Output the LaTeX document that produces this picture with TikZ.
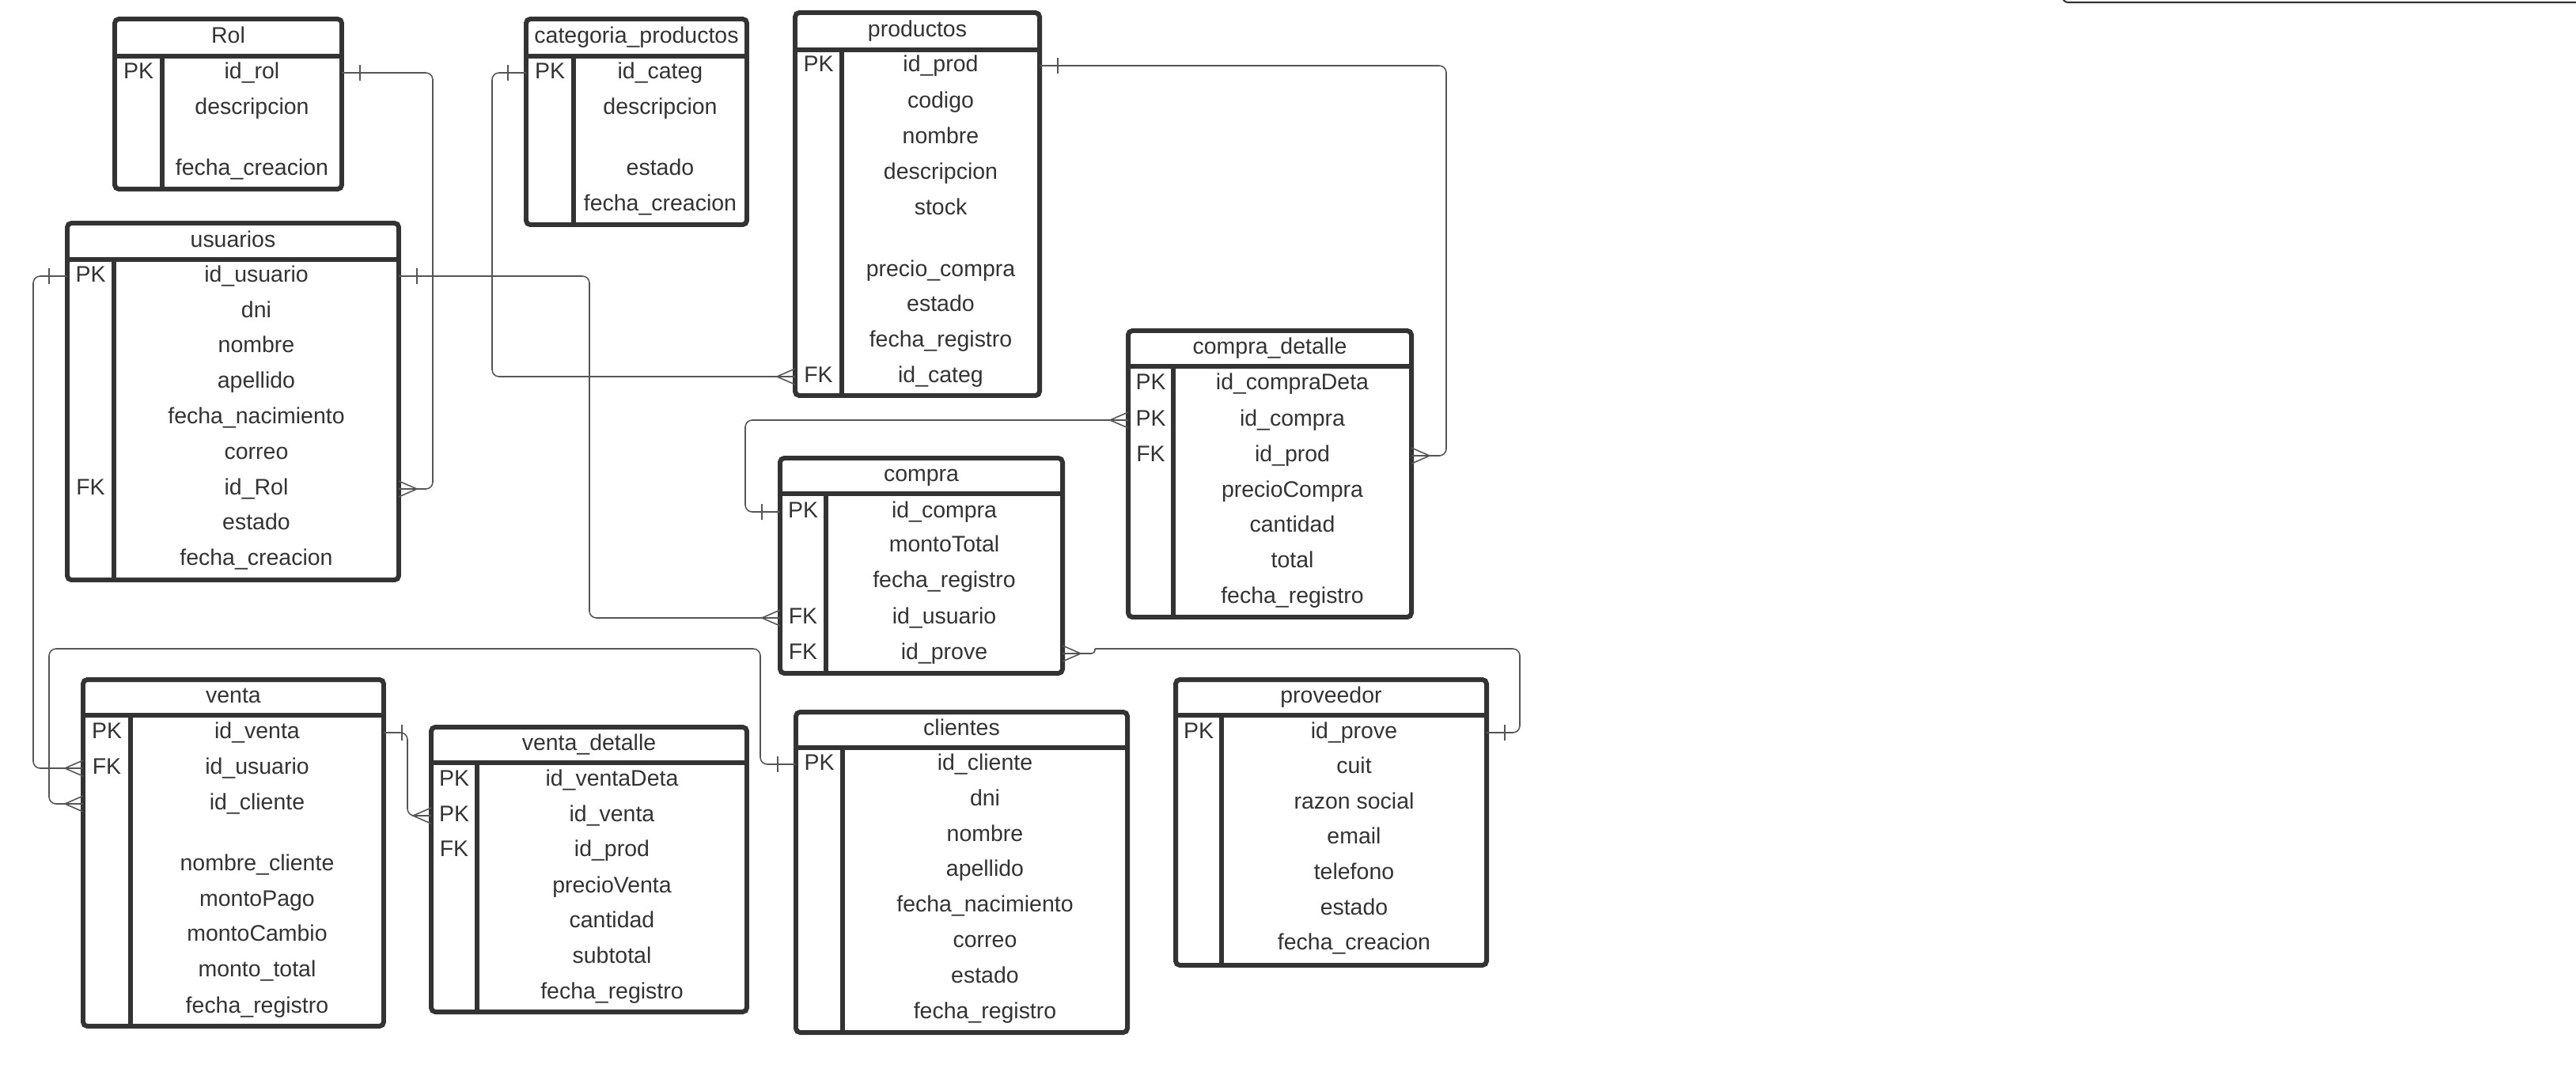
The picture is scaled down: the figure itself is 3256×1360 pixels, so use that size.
\documentclass[tikz,border=0pt]{standalone}
\usepackage{fontspec}
\setmainfont{Liberation Sans}
\usetikzlibrary{calc,fit}
\definecolor{ink}{HTML}{333333}
\definecolor{wirecol}{HTML}{555555}

\tikzset{
  tableframe/.style={draw=ink, line width=1.7pt, rounded corners=1.5pt, inner sep=0pt, outer sep=0pt},
  tablerule/.style={draw=ink, line width=1.5pt},
  celltext/.style={text=ink, font=\fontsize{8.1pt}{9.7pt}\selectfont, inner sep=0pt,
                   text height=5.8pt, text depth=1.7pt},
  rowslot/.style={inner sep=0pt, outer sep=0pt},
  wire/.style={draw=wirecol, line width=0.45pt, rounded corners=2.5pt},
  tick/.style={draw=wirecol, line width=0.45pt},
}

% table frame with header band and key column
% #1 name, #2 left, #3 top, #4 right, #5 bottom, #6 key column edge, #7 header bottom, #8 title
\newcommand{\ertable}[8]{%
  \node[tableframe, fit={(#2,#3) (#4,#5)}] (#1) {};
  \node[celltext] (#1-title) at ({(#2+#4)/2},{(#3+#7)/2}) {#8};
  \draw[tablerule] (#2,#7) -- (#4,#7);
  \draw[tablerule] (#6,#7) -- (#6,#5);
  \def\tL{#2}\def\tR{#4}\def\tD{#6}%
}
% one attribute row: #1 name, #2 y, #3 key label, #4 attribute
\newcommand{\erow}[4]{%
  \node[rowslot, fit={(\tL,#2) (\tR,#2)}] (#1) {};
  \if\relax\detokenize{#3}\relax\else
    \node[celltext] (#1-key) at ({(\tL+\tD)/2},#2) {#3};
  \fi
  \node[celltext] (#1-field) at ({(\tD+\tR)/2},#2) {#4};
}
% cardinality marks; #2 = -1 for a line leaving to the left, +1 to the right
\newcommand{\onemark}[2]{%
  \draw[tick] ($(#1)+(#2*23,-10)$) -- ($(#1)+(#2*23,10)$);}
\newcommand{\manymark}[2]{%
  \draw[tick] ($(#1)+(0,-10)$) -- ($(#1)+(#2*23,0)$) -- ($(#1)+(0,10)$);}

\begin{document}
\begin{tikzpicture}[x=0.01cm, y=-0.01cm]
\useasboundingbox (0,0) rectangle (3256,1360);

% ---------- Rol ----------
\ertable{rol}{145}{24}{432}{239}{205}{71}{Rol}
\erow{rol-id}{92}{PK}{id\_rol}
\erow{rol-desc}{137}{}{descripcion}
\erow{rol-fec}{214}{}{fecha\_creacion}

% ---------- categoria_productos ----------
\ertable{cat}{665}{24}{944}{284}{725}{71}{categoria\_productos}
\erow{cat-id}{92}{PK}{id\_categ}
\erow{cat-desc}{137}{}{descripcion}
\erow{cat-est}{214}{}{estado}
\erow{cat-fec}{259}{}{fecha\_creacion}

% ---------- usuarios ----------
\ertable{usu}{85}{282}{504}{733}{144}{328}{usuarios}
\erow{usu-id}{349}{PK}{id\_usuario}
\erow{usu-dni}{394}{}{dni}
\erow{usu-nom}{438}{}{nombre}
\erow{usu-ape}{483}{}{apellido}
\erow{usu-nac}{528}{}{fecha\_nacimiento}
\erow{usu-cor}{573}{}{correo}
\erow{usu-rol}{618}{FK}{id\_Rol}
\erow{usu-est}{662}{}{estado}
\erow{usu-fec}{707}{}{fecha\_creacion}

% ---------- productos ----------
\ertable{prod}{1005}{16}{1314}{500}{1064}{63}{productos}
\erow{prod-id}{83}{PK}{id\_prod}
\erow{prod-cod}{129}{}{codigo}
\erow{prod-nom}{174}{}{nombre}
\erow{prod-desc}{219}{}{descripcion}
\erow{prod-stock}{264}{}{stock}
\erow{prod-pc}{342}{}{precio\_compra}
\erow{prod-est}{386}{}{estado}
\erow{prod-fec}{431}{}{fecha\_registro}
\erow{prod-cat}{476}{FK}{id\_categ}

% ---------- compra_detalle ----------
\ertable{cd}{1426}{418}{1784}{780}{1483}{463}{compra\_detalle}
\erow{cd-id}{485}{PK}{id\_compraDeta}
\erow{cd-com}{531}{PK}{id\_compra}
\erow{cd-prod}{576}{FK}{id\_prod}
\erow{cd-pre}{621}{}{precioCompra}
\erow{cd-can}{665}{}{cantidad}
\erow{cd-tot}{710}{}{total}
\erow{cd-fec}{755}{}{fecha\_registro}

% ---------- compra ----------
\ertable{com}{986}{579}{1343}{851}{1044}{624}{compra}
\erow{com-id}{647}{PK}{id\_compra}
\erow{com-mon}{690}{}{montoTotal}
\erow{com-fec}{735}{}{fecha\_registro}
\erow{com-usu}{781}{FK}{id\_usuario}
\erow{com-prov}{826}{FK}{id\_prove}

% ---------- proveedor ----------
\ertable{prov}{1486}{859}{1879}{1220}{1544}{904}{proveedor}
\erow{prov-id}{926}{PK}{id\_prove}
\erow{prov-cuit}{970}{}{cuit}
\erow{prov-raz}{1015}{}{razon social}
\erow{prov-email}{1059}{}{email}
\erow{prov-tel}{1104}{}{telefono}
\erow{prov-est}{1149}{}{estado}
\erow{prov-fec}{1193}{}{fecha\_creacion}

% ---------- clientes ----------
\ertable{cli}{1006}{900}{1425}{1305}{1065}{945}{clientes}
\erow{cli-id}{966}{PK}{id\_cliente}
\erow{cli-dni}{1011}{}{dni}
\erow{cli-nom}{1056}{}{nombre}
\erow{cli-ape}{1100}{}{apellido}
\erow{cli-nac}{1145}{}{fecha\_nacimiento}
\erow{cli-cor}{1190}{}{correo}
\erow{cli-est}{1235}{}{estado}
\erow{cli-fec}{1280}{}{fecha\_registro}

% ---------- venta ----------
\ertable{ven}{105}{859}{485}{1297}{165}{904}{venta}
\erow{ven-id}{926}{PK}{id\_venta}
\erow{ven-usu}{971}{FK}{id\_usuario}
\erow{ven-cli}{1016}{}{id\_cliente}
\erow{ven-nom}{1093}{}{nombre\_cliente}
\erow{ven-pago}{1138}{}{montoPago}
\erow{ven-camb}{1182}{}{montoCambio}
\erow{ven-tot}{1227}{}{monto\_total}
\erow{ven-fec}{1273}{}{fecha\_registro}

% ---------- venta_detalle ----------
\ertable{vd}{545}{919}{944}{1279}{603}{964}{venta\_detalle}
\erow{vd-id}{986}{PK}{id\_ventaDeta}
\erow{vd-ven}{1031}{PK}{id\_venta}
\erow{vd-prod}{1075}{FK}{id\_prod}
\erow{vd-pre}{1121}{}{precioVenta}
\erow{vd-can}{1165}{}{cantidad}
\erow{vd-sub}{1210}{}{subtotal}
\erow{vd-fec}{1255}{}{fecha\_registro}

% ---------- routing lanes ----------
\coordinate (laneRol)  at (547,0);
\coordinate (laneCat)  at (622,0);
\coordinate (laneUsuR) at (745,0);
\coordinate (laneUsuL) at (42,0);
\coordinate (laneProd) at (1828,0);
\coordinate (laneCom)  at (942,0);
\coordinate (jog)      at (1384,820);
\coordinate (laneProv) at (1921,0);
\coordinate (laneTop)  at (0,820);
\coordinate (laneCliR) at (961,0);
\coordinate (laneCliL) at (62,0);
\coordinate (laneVen)  at (515,0);

% ---------- relationships ----------
% Rol 1 -- N usuarios
\draw[wire] (rol-id.east) -- (rol-id.east -| laneRol) -- (usu-rol.east -| laneRol) -- (usu-rol.east);
\onemark{rol-id.east}{1}
\manymark{usu-rol.east}{1}

% categoria_productos 1 -- N productos
\draw[wire] (cat-id.west) -- (cat-id.west -| laneCat) -- (prod-cat.west -| laneCat) -- (prod-cat.west);
\onemark{cat-id.west}{-1}
\manymark{prod-cat.west}{-1}

% usuarios 1 -- N compra
\draw[wire] (usu-id.east) -- (usu-id.east -| laneUsuR) -- (com-usu.west -| laneUsuR) -- (com-usu.west);
\onemark{usu-id.east}{1}
\manymark{com-usu.west}{-1}

% usuarios 1 -- N venta
\draw[wire] (usu-id.west) -- (usu-id.west -| laneUsuL) -- (ven-usu.west -| laneUsuL) -- (ven-usu.west);
\onemark{usu-id.west}{-1}
\manymark{ven-usu.west}{-1}

% productos 1 -- N compra_detalle
\draw[wire] (prod-id.east) -- (prod-id.east -| laneProd) -- (cd-prod.east -| laneProd) -- (cd-prod.east);
\onemark{prod-id.east}{1}
\manymark{cd-prod.east}{1}

% compra 1 -- N compra_detalle
\draw[wire] (com-id.west) -- (com-id.west -| laneCom) -- (cd-com.west -| laneCom) -- (cd-com.west);
\onemark{com-id.west}{-1}
\manymark{cd-com.west}{-1}

% proveedor 1 -- N compra
\draw[wire, rounded corners=1.2pt] (com-prov.east) -- (com-prov.east -| jog) -- (jog);
\draw[wire] (jog) -- (jog -| laneProv) -- (prov-id.east -| laneProv) -- (prov-id.east);
\manymark{com-prov.east}{1}
\onemark{prov-id.east}{1}

% clientes 1 -- N venta
\draw[wire] (cli-id.west) -- (cli-id.west -| laneCliR) -- (laneCliR |- laneTop) -- (laneCliL |- laneTop)
            -- (ven-cli.west -| laneCliL) -- (ven-cli.west);
\onemark{cli-id.west}{-1}
\manymark{ven-cli.west}{-1}

% venta 1 -- N venta_detalle
\draw[wire] (ven-id.east) -- (ven-id.east -| laneVen) -- (vd-ven.west -| laneVen) -- (vd-ven.west);
\onemark{ven-id.east}{1}
\manymark{vd-ven.west}{-1}

% edge of a further frame along the top border
\draw[draw=ink, line width=0.6pt, rounded corners=2pt] (2607,-12) -- (2607,3) -- (3270,3);
\end{tikzpicture}
\end{document}
